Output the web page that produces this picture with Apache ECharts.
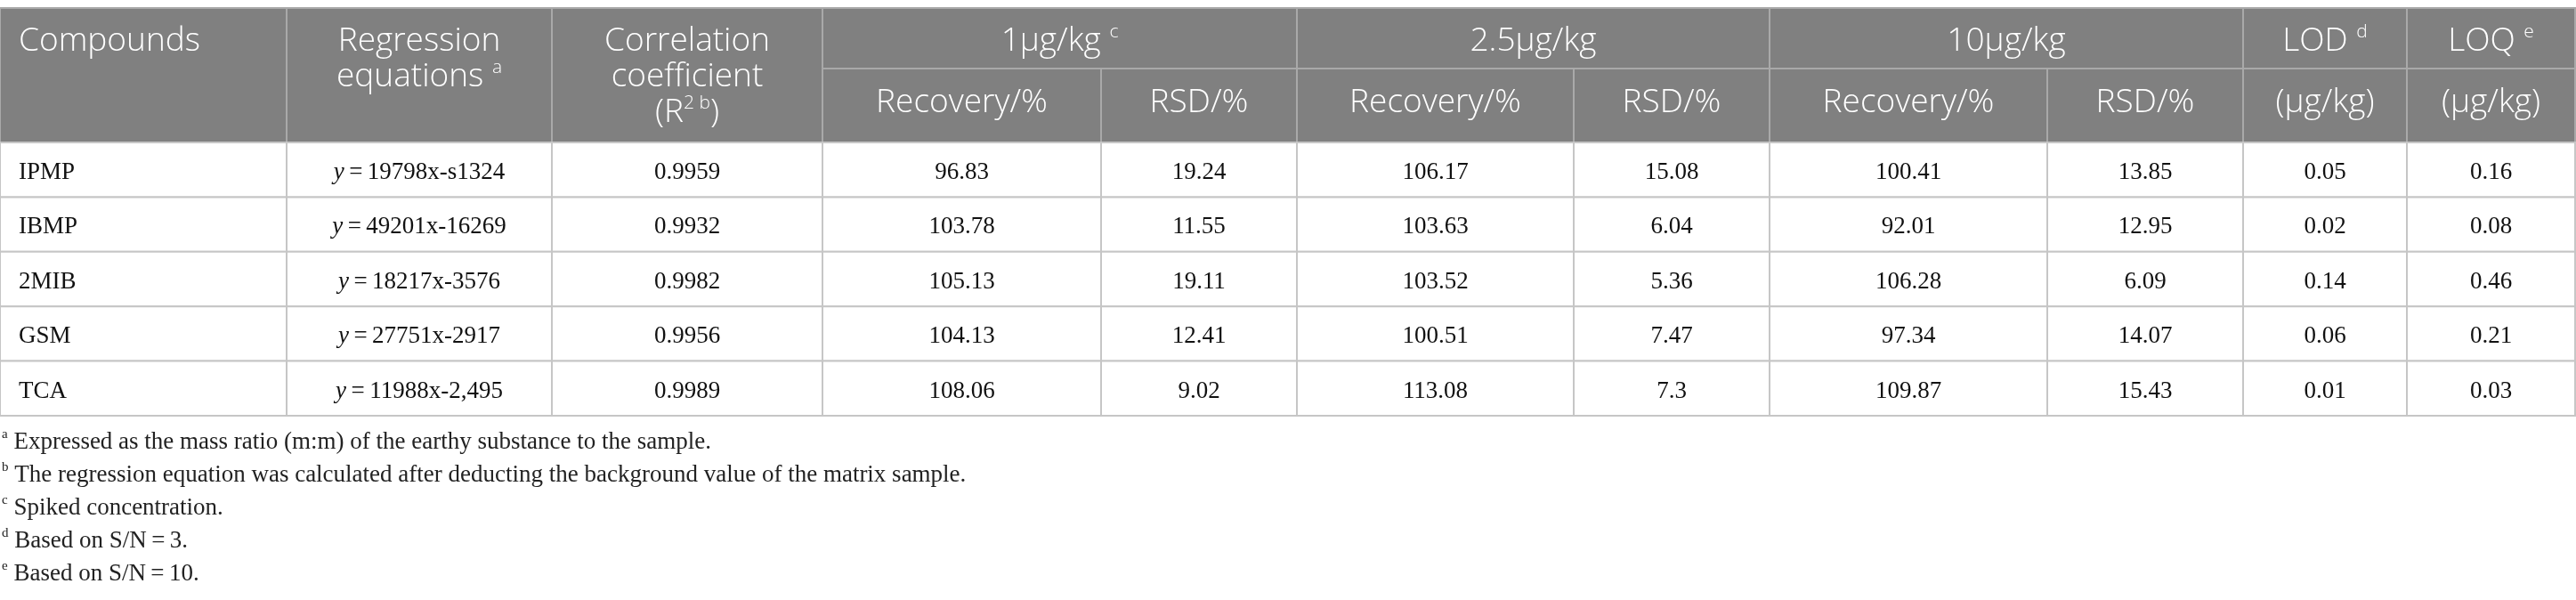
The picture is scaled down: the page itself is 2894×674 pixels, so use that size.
<!DOCTYPE html>
<html><head><meta charset="utf-8">
<script src="https://cdn.jsdelivr.net/npm/echarts@6/dist/echarts.min.js"></script>
<style>html,body{margin:0;padding:0;background:#fff}#c{width:2894px;height:674px}</style>
</head><body><div id="c"></div>
<script>
// ---------- data ----------
const compounds = ['IPMP', 'IBMP', '2MIB', 'GSM', 'TCA'];
const equations = ['19798x-s1324', '49201x-16269', '18217x-3576', '27751x-2917', '11988x-2,495'];
const r2 = [0.9959, 0.9932, 0.9982, 0.9956, 0.9989];
const recovery1 = [96.83, 103.78, 105.13, 104.13, 108.06];
const rsd1 = [19.24, 11.55, 19.11, 12.41, 9.02];
const recovery25 = [106.17, 103.63, 103.52, 100.51, 113.08];
const rsd25 = [15.08, 6.04, 5.36, 7.47, 7.3];
const recovery10 = [100.41, 92.01, 106.28, 97.34, 109.87];
const rsd10 = [13.85, 12.95, 6.09, 14.07, 15.43];
const lod = [0.05, 0.02, 0.14, 0.06, 0.01];
const loq = [0.16, 0.08, 0.46, 0.21, 0.03];

const mainHeaders = ['Compounds', 'Regression\nequations {sup|a}', 'Correlation\ncoefficient\n(R{sup|2 b})'];
const groupHeaders = ['1µg/kg {sup|c}', '2.5µg/kg', '10µg/kg'];
const subHeaders = ['Recovery/%', 'RSD/%'];
const limitHeaders = ['LOD {sup|d}', 'LOQ {sup|e}'];
const limitUnits = ['(µg/kg)', '(µg/kg)'];
const footnoteMarks = ['a', 'b', 'c', 'd', 'e'];
const footnotes = [
  'Expressed as the mass ratio (m:m) of the earthy substance to the sample.',
  'The regression equation was calculated after deducting the background value of the matrix sample.',
  'Spiked concentration.',
  'Based on S/N\u2009=\u20093.',
  'Based on S/N\u2009=\u200910.'
];

// ---------- layout / style ----------
const colEdges = [0, 322, 620, 924, 1237, 1457, 1768, 1988, 2300, 2520, 2704, 2893];
const headTop = 9, headMid = 77, headBottom = 160, rowH = 61.4;
const HEAD_FILL = '#808080', HEAD_STROKE = '#a9a9a9', BODY_STROKE = '#c6c6c6';
const SANS = '"Open Sans", "Noto Sans", sans-serif';
const SERIF = '"Liberation Serif", "DejaVu Serif", serif';
const HFS = 37, BFS = 27, FFS = 27, HFW = 300;

const supRich = { sup: { fontSize: 21, fontFamily: SANS, fontWeight: HFW, fill: '#fff', verticalAlign: 'top', lineHeight: 26 } };

const cells = [];
function headCell(c0, c1, y0, y1, text, ty, align) {
  cells.push({ x0: colEdges[c0], x1: colEdges[c1], y0, y1, text, ty, align: align || 'center', head: true });
}
headCell(0, 1, headTop, headBottom, mainHeaders[0], 17, 'left');
headCell(1, 2, headTop, headBottom, mainHeaders[1], 17);
headCell(2, 3, headTop, headBottom, mainHeaders[2], 17);
groupHeaders.forEach((g, i) => headCell(3 + 2 * i, 5 + 2 * i, headTop, headMid, g, 17));
for (let i = 0; i < 3; i++) {
  subHeaders.forEach((s, j) => headCell(3 + 2 * i + j, 4 + 2 * i + j, headMid, headBottom, s, 18));
}
limitHeaders.forEach((s, i) => headCell(9 + i, 10 + i, headTop, headMid, s, 17));
limitUnits.forEach((s, i) => headCell(9 + i, 10 + i, headMid, headBottom, s, 18));

const bodyCols = [compounds, equations, r2, recovery1, rsd1, recovery25, rsd25, recovery10, rsd10, lod, loq];
compounds.forEach((_, r) => {
  const y0 = headBottom + r * rowH, y1 = y0 + rowH;
  bodyCols.forEach((col, c) => {
    let text = String(col[r]);
    if (c === 1) text = '{i|y}\u2009=\u2009' + text;
    cells.push({ x0: colEdges[c], x1: colEdges[c + 1], y0, y1, text, ty: 34, align: c === 0 ? 'left' : 'center', head: false });
  });
});

function renderItem(params, api) {
  const c = cells[params.dataIndex];
  const p0 = api.coord([c.x0, c.y0]);
  const p1 = api.coord([c.x1, c.y1]);
  const w = p1[0] - p0[0], h = p1[1] - p0[1];
  const rect = {
    type: 'rect', shape: { x: p0[0], y: p0[1], width: w, height: h },
    style: { fill: c.head ? HEAD_FILL : '#fff', stroke: c.head ? HEAD_STROKE : BODY_STROKE, lineWidth: 2 }
  };
  const tx = c.align === 'left' ? p0[0] + 21 : p0[0] + w / 2;
  const text = c.head ? {
    type: 'text', x: tx, y: p0[1] + c.ty,
    style: { text: c.text, fill: '#fff', fontFamily: SANS, fontWeight: HFW, fontSize: HFS, lineHeight: 40, align: c.align, verticalAlign: 'top', rich: supRich }
  } : {
    type: 'text', x: tx, y: p0[1] + c.ty,
    style: { text: c.text, fill: '#111', fontFamily: SERIF, fontSize: BFS, align: c.align, verticalAlign: 'middle',
      rich: { i: { fontFamily: SERIF, fontSize: BFS, fontStyle: 'italic', fill: '#111' } } }
  };
  return { type: 'group', children: [rect, text] };
}

const footGraphics = footnotes.map((t, i) => ({
  type: 'text', x: 2, y: 497 + i * 37,
  style: {
    text: '{s|' + footnoteMarks[i] + '}{t| ' + t + '}',
    verticalAlign: 'middle', align: 'left',
    rich: {
      s: { fontFamily: SERIF, fontSize: 15, fill: '#222', verticalAlign: 'top', lineHeight: 20 },
      t: { fontFamily: SERIF, fontSize: FFS, fill: '#222', lineHeight: 32 }
    }
  }
}));

const chart = echarts.init(document.getElementById('c'), null, { renderer: 'canvas' });
chart.setOption({
  animation: false,
  grid: { left: 0, right: 0, top: 0, bottom: 0 },
  xAxis: { type: 'value', min: 0, max: 2894, show: false },
  yAxis: { type: 'value', min: 0, max: 674, inverse: true, show: false },
  series: [{
    type: 'custom', clip: false, renderItem,
    data: cells.map((c, i) => [i])
  }],
  graphic: footGraphics
});
</script>
</body></html>
